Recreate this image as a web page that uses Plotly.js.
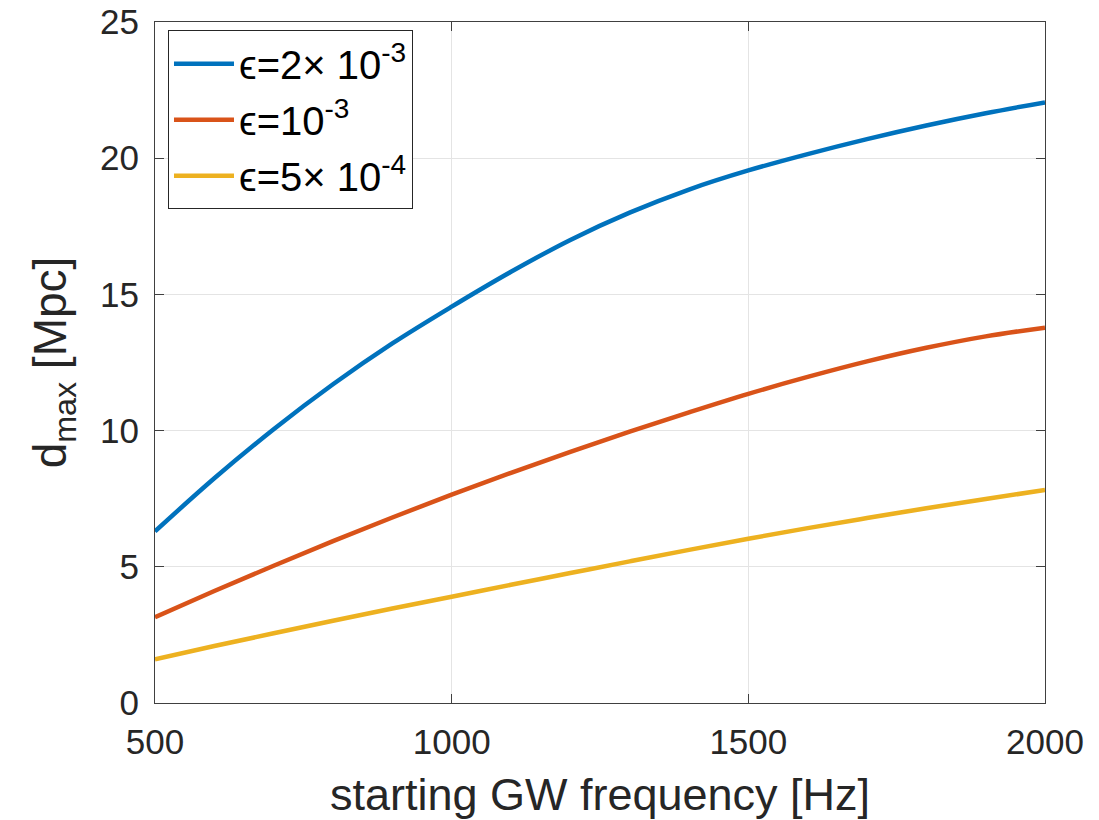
<!DOCTYPE html>
<html>
<head>
<meta charset="utf-8">
<script src="https://cdn.plot.ly/plotly-3.0.1.min.js"></script>
<style>html,body{margin:0;padding:0;background:#fff;}#chart{width:1099px;height:820px;}</style>
</head>
<body>
<div id="chart"></div>
<script>
const freq = [500, 600, 700, 800, 900, 1000, 1100, 1200, 1300, 1400, 1500, 1600, 1700, 1800, 1900, 2000];
const dmaxEps2e3 = [6.3, 8.25, 10.05, 11.7, 13.2, 14.55, 15.83, 17.0, 18.0, 18.85, 19.55, 20.15, 20.7, 21.2, 21.65, 22.05];
const dmaxEps1e3 = [3.15, 4.11, 5.04, 5.94, 6.81, 7.65, 8.45, 9.22, 9.96, 10.67, 11.35, 11.97, 12.54, 13.04, 13.46, 13.78];
const dmaxEps5e4 = [1.6, 2.09, 2.56, 3.02, 3.47, 3.9, 4.34, 4.77, 5.2, 5.62, 6.03, 6.42, 6.79, 7.15, 7.49, 7.82];
const seriesNames = ['ϵ=2× 10<sup>-3</sup>', 'ϵ=10<sup>-3</sup>', 'ϵ=5× 10<sup>-4</sup>'];
const xTicks = [500, 1000, 1500, 2000];
const yTicks = [0, 5, 10, 15, 20, 25];

const colors = ['#0072BD', '#D95319', '#EDB120'];
const ys = [dmaxEps2e3, dmaxEps1e3, dmaxEps5e4];
const traces = ys.map((y, i) => ({
  x: freq, y: y, type: 'scatter', mode: 'lines', name: seriesNames[i],
  legendgroup: 'g' + i,
  line: {color: colors[i], width: 4.5, shape: 'spline', smoothing: 1}
}));

const font = 'Liberation Sans, Arial, Helvetica, sans-serif';
const axisCommon = {
  showline: true, linecolor: '#404040', linewidth: 1, mirror: 'allticks',
  ticks: 'inside', ticklen: 9, tickcolor: '#404040', tickwidth: 1,
  showgrid: true, gridcolor: '#e4e4e4', gridwidth: 1, zeroline: false,
  tickfont: {family: font, size: 35, color: '#262626'}
};

const layout = {
  width: 1099, height: 820,
  margin: {l: 155, r: 54, t: 22, b: 117},
  paper_bgcolor: '#fff', plot_bgcolor: '#fff',
  font: {family: font, color: '#262626'},
  xaxis: Object.assign({}, axisCommon, {
    range: [500, 2000], tickvals: xTicks, ticktext: xTicks.map(String),
    ticklabelstandoff: 8,
    title: {text: 'starting GW frequency [Hz]', font: {family: font, size: 45, color: '#262626'}, standoff: 18}
  }),
  yaxis: Object.assign({}, axisCommon, {
    range: [0, 25], tickvals: yTicks, ticktext: yTicks.map(String),
    ticklabelstandoff: 8,
    title: {text: 'd<sub>max</sub> [Mpc]', font: {family: font, size: 46, color: '#262626'}, standoff: 18}
  }),
  legend: {
    x: 0.0146, y: 0.988, xanchor: 'left', yanchor: 'top',
    bgcolor: '#fff', bordercolor: '#262626', borderwidth: 1,
    font: {family: font, size: 40, color: '#000'},
    itemwidth: 60, traceorder: 'grouped', tracegroupgap: 1
  },
  showlegend: true
};

Plotly.newPlot('chart', traces, layout, {staticPlot: true, displayModeBar: false});
</script>
</body>
</html>
